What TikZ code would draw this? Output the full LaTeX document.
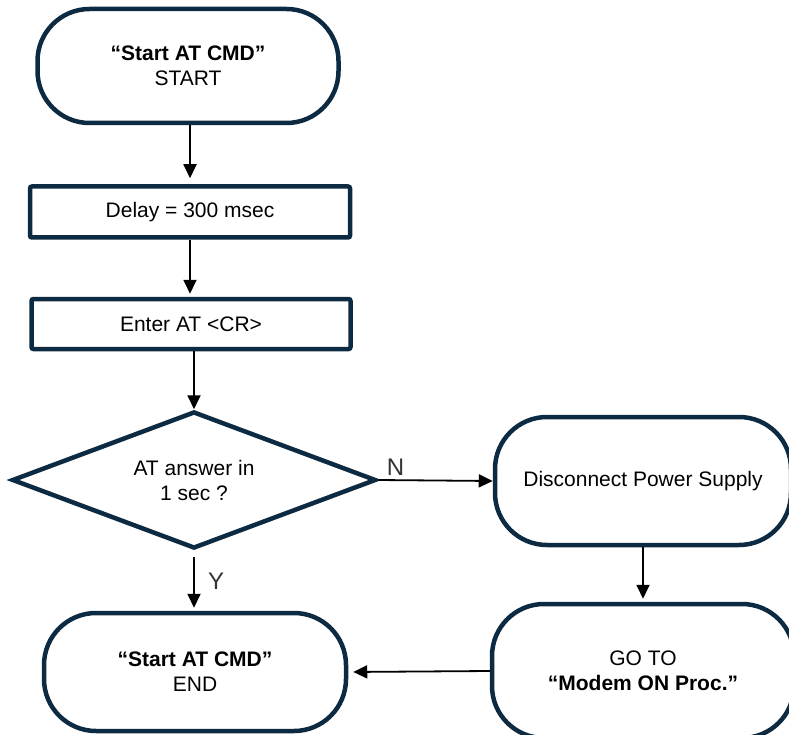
\documentclass[tikz,border=0pt]{standalone}
\usepackage{fontspec}
\setmainfont{Liberation Sans}
\usetikzlibrary{shapes.geometric,arrows.meta}
\definecolor{navy}{RGB}{12,42,66}

\begin{document}
\begin{tikzpicture}[x=1pt,y=-1pt,font=\fontsize{21}{25}\selectfont,
	term/.style={draw=navy,line width=4.5pt,rounded corners=52pt,align=center,inner sep=0pt},
	box/.style={draw=navy,line width=4.5pt,rounded corners=2pt,align=center,inner sep=0pt},
	decision/.style={diamond,aspect=2.66,draw=navy,line width=4.5pt,align=center,inner sep=0pt},
	arr/.style={-{Triangle[length=14pt,width=13pt]},line width=1.8pt},
	lbl/.style={text=black!80,font=\fontsize{24}{28}\selectfont}]
	\useasboundingbox (0,0) rectangle (789,735);

	% left column
	\node[term,minimum width=301pt,minimum height=114pt] (start) at (188,66) {\textbf{“Start AT CMD”}\\START};
	\node[box,minimum width=320pt,minimum height=51pt] (delay) at (190,212) {Delay = 300 msec};
	\node[box,minimum width=319pt,minimum height=50pt] (enter) at (191,324) {Enter AT <CR>};
	\node[decision,minimum width=364pt,minimum height=137pt] (answer) at (194,480) {AT answer in\\1 sec ?};
	\node[term,minimum width=302pt,minimum height=118pt] (finish) at (195,672) {\textbf{“Start AT CMD”}\\END};

	% right column
	\node[term,minimum width=296pt,minimum height=128pt] (power) at (643,481) {Disconnect Power Supply};
	\node[term,minimum width=302pt,minimum height=134pt] (goto) at (643,671) {GO TO\\\textbf{“Modem ON Proc.”}};

	% connectors
	\draw[arr,shorten >=6pt] (start.south -| delay.north) -- (delay.north);
	\draw[arr,shorten >=3pt] (delay.south) -- (delay.south |- enter.north);
	\draw[arr] (enter.south -| answer.north) -- (answer.north);
	\draw[arr] (answer.east) -- (power.west) node[lbl,pos=0.15,above] {N};
	\draw[arr,shorten >=3pt] (power.south) -- (goto.north);
	\draw[arr,shorten <=6pt,shorten >=3pt] (answer.south) -- (answer.south |- finish.north) node[lbl,midway,right=10pt] {Y};
	\draw[arr,shorten >=5pt] (goto.west) -- (finish.east);
\end{tikzpicture}
\end{document}
